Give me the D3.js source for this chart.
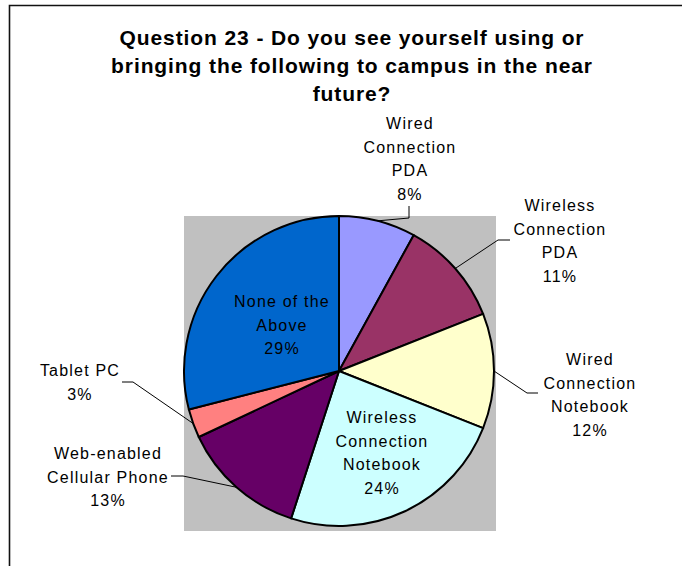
<!DOCTYPE html>
<html>
<head>
<meta charset="utf-8">
<script src="https://cdn.jsdelivr.net/npm/d3@7"></script>
<style>
  body { margin: 0; background: #fff; }
  svg { display: block; }
  text { font-family: "Liberation Sans", Arial, sans-serif; fill: #000; }
</style>
</head>
<body>
<div id="chart"></div>
<script>
// data
var categories = ["Wired Connection PDA", "Wireless Connection PDA", "Wired Connection Notebook",
    "Wireless Connection Notebook", "Web-enabled Cellular Phone", "Tablet PC", "None of the Above"];
var values = [8, 11, 12, 24, 13, 3, 29];
var labelLines = [
    ["Wired", "Connection", "PDA"],
    ["Wireless", "Connection", "PDA"],
    ["Wired", "Connection", "Notebook"],
    ["Wireless", "Connection", "Notebook"],
    ["Web-enabled", "Cellular Phone"],
    ["Tablet PC"],
    ["None of the", "Above"]
];
var titleLines = ["Question 23 - Do you see yourself using or",
    "bringing the following to campus in the near",
    "future?"];
var sliceColors = ["#9999FF", "#993366", "#FFFFCC", "#CCFFFF", "#660066", "#FF8080", "#0066CC"];

// layout: label anchor (centre x, first baseline) and leader elbow points
var labelLayout = [
    {x: 410, y: 129, leader: [[409, 218], [409, 206]]},
    {x: 560, y: 211, leader: [[498, 240], [510, 240]]},
    {x: 590, y: 365, leader: [[527, 393], [538, 393]]},
    {x: 382, y: 423, leader: null},
    {x: 108, y: 459, leader: [[183, 476], [171, 476]]},
    {x: 80, y: 376, leader: [[133, 382], [122, 382]]},
    {x: 282, y: 307, leader: null}
];

var width = 682, height = 566;
var cx = 339, cy = 371, radius = 155;
var lineStep = 23.5;

var svg = d3.select("#chart").append("svg")
    .attr("width", width)
    .attr("height", height);

// chart frame (only top and left edges visible)
svg.append("path")
    .attr("d", "M9.5," + height + "V5.5H" + width)
    .attr("fill", "none")
    .attr("stroke", "#111")
    .attr("stroke-width", 1.6);

// plot area
svg.append("rect")
    .attr("x", 184)
    .attr("y", 216)
    .attr("width", 312)
    .attr("height", 315)
    .attr("fill", "#C0C0C0");

// title
svg.append("g")
    .selectAll("text")
    .data(titleLines)
    .enter().append("text")
    .attr("x", 352)
    .attr("y", function(d, i) { return 45 + i * 28; })
    .attr("text-anchor", "middle")
    .attr("font-size", 21)
    .attr("font-weight", "bold")
    .attr("letter-spacing", 0.9)
    .text(function(d) { return d; });

var pie = d3.pie().sort(null).value(function(d) { return d; });
var arcs = pie(values);
var arc = d3.arc().innerRadius(0).outerRadius(radius);

var pieG = svg.append("g").attr("transform", "translate(" + cx + "," + cy + ")");
pieG.selectAll("path")
    .data(arcs)
    .enter().append("path")
    .attr("d", arc)
    .attr("fill", function(d, i) { return sliceColors[i]; })
    .attr("stroke", "#000")
    .attr("stroke-width", 2)
    .attr("stroke-linejoin", "round");

// leader lines from slice edge mid-angle
function edgePoint(d) {
    var a = (d.startAngle + d.endAngle) / 2;
    return [cx + radius * Math.sin(a), cy - radius * Math.cos(a)];
}
svg.append("g")
    .selectAll("polyline")
    .data(arcs.filter(function(d, i) { return labelLayout[i].leader; }))
    .enter().append("polyline")
    .attr("points", function(d) {
        var pts = [edgePoint(d)].concat(labelLayout[d.index].leader);
        return pts.map(function(p) { return p.join(","); }).join(" ");
    })
    .attr("fill", "none")
    .attr("stroke", "#000")
    .attr("stroke-width", 1);

// labels: name lines + percentage
var labels = svg.append("g")
    .selectAll("text")
    .data(arcs)
    .enter().append("text")
    .attr("text-anchor", "middle")
    .attr("font-size", 16)
    .attr("letter-spacing", 1.2);

labels.each(function(d, i) {
    var lines = labelLines[i].concat([values[i] + "%"]);
    var pos = labelLayout[i];
    d3.select(this).selectAll("tspan")
        .data(lines)
        .enter().append("tspan")
        .attr("x", pos.x)
        .attr("y", function(t, j) { return pos.y + j * lineStep; })
        .text(function(t) { return t; });
});
</script>
</body>
</html>
